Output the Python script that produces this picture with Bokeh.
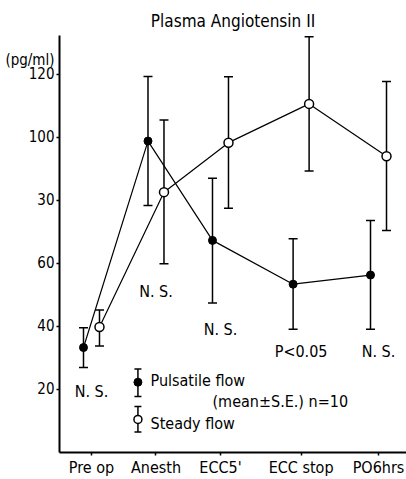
from bokeh.plotting import figure
from bokeh.models import ColumnDataSource, Whisker, FixedTicker, Range1d
from bokeh.core.properties import value
from bokeh.embed import file_html
from bokeh.resources import INLINE

# ---- data ----
categories = ["Pre op", "Anesth", "ECC5'", "ECC stop", "PO6hrs"]
cat_pos = [0, 1, 2, 3.25, 4.45]

pulsatile_mean = [33.3, 98.8, 67.3, 53.4, 56.3]
pulsatile_upper = [39.6, 119.3, 87.0, 67.8, 73.6]
pulsatile_lower = [27.0, 78.4, 47.4, 39.1, 39.1]

steady_mean = [39.8, 82.6, 98.3, 110.6, 94.0]
steady_upper = [45.2, 105.5, 119.2, 131.9, 117.7]
steady_lower = [33.8, 59.9, 77.5, 89.3, 70.4]

significance = ["N. S.", "N. S.", "N. S.", "P<0.05", "N. S."]

y_ticks = [20, 40, 60, 80, 100, 120]
y_tick_labels = ["20", "40", "60", "30", "100", "120"]
unit_label = "(pg/ml)"
title_text = "Plasma Angiotensin II"

# ---- layout / style ----
FONT = "'Liberation Sans Narrow', 'DejaVu Sans Condensed', 'Roboto Condensed', 'Liberation Sans', sans-serif"
DODGE = 0.124
sig_y = [19.4, 51.2, 39.1, 32.0, 32.0]
UNIT_Y = 124.6

p = figure(width=406, height=479, output_backend="svg", toolbar_location=None,
           x_range=Range1d(-0.496, 4.884), y_range=Range1d(0, 132.3),
           min_border_left=59, min_border_right=0, min_border_top=35,
           min_border_bottom=25, title=title_text)
p.outline_line_color = None
p.grid.visible = False
p.background_fill_color = "white"
p.border_fill_color = "white"

p.title.text_font = FONT
p.title.text_font_size = "17px"
p.title.text_font_style = "normal"
p.title.text_color = "black"
p.title.align = "center"
p.title.offset = -15
p.title.standoff = 10

# axes
labels = {t: l for t, l in zip(y_ticks, y_tick_labels)}
labels[UNIT_Y] = unit_label
p.yaxis.ticker = FixedTicker(ticks=y_ticks + [UNIT_Y], minor_ticks=y_ticks)
p.yaxis.major_label_overrides = labels
p.xaxis.ticker = FixedTicker(ticks=cat_pos, minor_ticks=cat_pos)
p.xaxis.major_label_overrides = {t: l for t, l in zip(cat_pos, categories)}
for ax in (p.xaxis, p.yaxis):
    ax.axis_line_color = "black"
    ax.axis_line_width = 2
    ax.major_tick_line_color = None
    ax.major_tick_out = 3
    ax.major_tick_in = 0
    ax.minor_tick_line_color = "black"
    ax.minor_tick_line_width = 1.5
    ax.minor_tick_out = 3
    ax.minor_tick_in = 0
    ax.major_label_text_font = FONT
    ax.major_label_text_color = "black"
    ax.major_label_standoff = 2
p.yaxis.major_label_text_font_size = "15px"
p.xaxis.major_label_text_font_size = "16px"

px = [c - DODGE for c in cat_pos]
sx = [c + DODGE for c in cat_pos]

src_p = ColumnDataSource(dict(x=px, y=pulsatile_mean, up=pulsatile_upper, lo=pulsatile_lower))
src_s = ColumnDataSource(dict(x=sx, y=steady_mean, up=steady_upper, lo=steady_lower))

p.line("x", "y", source=src_p, line_color="black", line_width=1.2)
p.line("x", "y", source=src_s, line_color="black", line_width=1.2)

for src in (src_p, src_s):
    w = Whisker(base="x", upper="up", lower="lo", source=src, dimension="height",
                line_color="black", line_width=1.5)
    w.upper_head.size = 9
    w.lower_head.size = 9
    w.upper_head.line_width = 1.5
    w.lower_head.line_width = 1.5
    p.add_layout(w)

p.scatter("x", "y", source=src_p, size=8, fill_color="black", line_color="black")
p.scatter("x", "y", source=src_s, size=9, fill_color="white", line_color="black", line_width=1.5)

# significance labels
p.text(x=cat_pos, y=sig_y, text=significance, text_font=value(FONT), text_font_size="16px",
       text_align="center", text_baseline="middle", text_color="black")

# legend (drawn manually)
lx = 0.72
leg_p = ColumnDataSource(dict(x=[lx], y=[22.3], up=[26.5], lo=[17.8]))
leg_s = ColumnDataSource(dict(x=[lx], y=[10.5], up=[14.6], lo=[6.5]))
for src in (leg_p, leg_s):
    w = Whisker(base="x", upper="up", lower="lo", source=src, dimension="height",
                line_color="black", line_width=1.5)
    w.upper_head.size = 7
    w.lower_head.size = 7
    w.upper_head.line_width = 1.5
    w.lower_head.line_width = 1.5
    p.add_layout(w)
p.scatter("x", "y", source=leg_p, size=8, fill_color="black", line_color="black")
p.scatter("x", "y", source=leg_s, size=8, fill_color="white", line_color="black", line_width=1.5)

p.text(x=[0.915, 1.876, 0.915], y=[22.8, 16.1, 9.2],
       text=["Pulsatile flow", "(mean\u00b1S.E.) n=10", "Steady flow"],
       text_font=value(FONT), text_font_size="16px", text_align="left",
       text_baseline="middle", text_color="black")

open("out.html", "w").write(file_html(p, INLINE))
